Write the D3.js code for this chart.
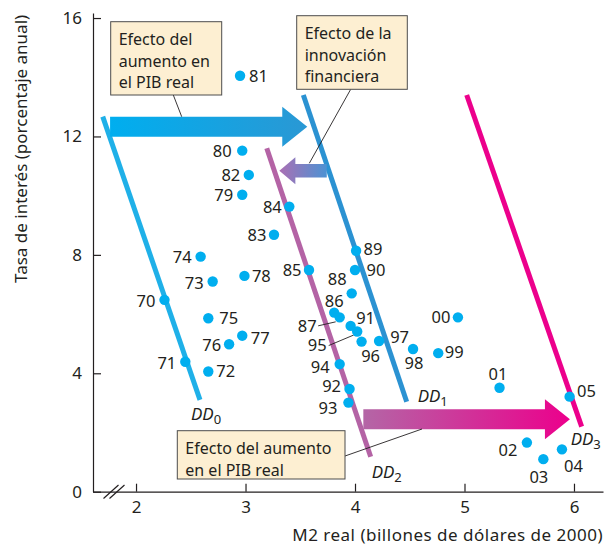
<!DOCTYPE html>
<html>
<head>
<meta charset="utf-8">
<script src="https://cdn.jsdelivr.net/npm/d3@7"></script>
<style>
	body { margin: 0; background: #ffffff; }
	svg { display: block; font-family: "Noto Sans", "Open Sans", sans-serif; }
</style>
</head>
<body>
<div id="chart"></div>
<script>
// years, real M2 (billions of 2000 dollars) and interest rate (% a year)
const years = ["70", "71", "72", "73", "74", "75", "76", "77", "78", "79",
	"80", "81", "82", "83", "84", "85", "86", "87", "88", "89",
	"90", "91", "92", "93", "94", "95", "96", "97", "98", "99",
	"00", "01", "02", "03", "04", "05"];
const realM2 = [2.26, 2.45, 2.66, 2.70, 2.59, 2.66, 2.85, 2.97, 2.99, 2.97,
	2.97, 2.95, 3.03, 3.26, 3.40, 3.58, 3.81, 3.86, 3.97, 4.01,
	4.00, 3.96, 3.95, 3.94, 3.86, 4.02, 4.06, 4.22, 4.53, 4.76,
	4.94, 5.32, 5.57, 5.72, 5.89, 5.96];
const rate = [6.48, 4.39, 4.06, 7.10, 7.94, 5.86, 4.98, 5.27, 7.29, 10.03,
	11.52, 14.05, 10.70, 8.68, 9.63, 7.49, 6.05, 5.89, 6.70, 8.14,
	7.49, 5.60, 3.47, 3.01, 4.31, 5.41, 5.07, 5.09, 4.82, 4.68,
	5.89, 3.51, 1.66, 1.10, 1.43, 3.21];

// demand curves: end points [m2, rate]
const curveNames = ["0", "1", "2", "3"];
const curveTop = [[1.696, 12.67], [3.528, 13.40], [3.194, 11.60], [5.020, 13.40]];
const curveBottom = [[2.584, 3.10], [4.472, 3.04], [4.143, 1.18], [6.070, 2.20]];

// shift arrows: from m2, to m2, at rate
const arrowFrom = [1.763, 3.742, 4.076];
const arrowTo = [3.564, 3.309, 5.963];
const arrowRate = [12.33, 10.84, 2.45];

const xTicks = [2, 3, 4, 5, 6];
const yTicks = [0, 4, 8, 12, 16];

const W = 611, H = 552;

const svg = d3.select("#chart")
	.append("svg")
	.attr("width", W)
	.attr("height", H);

const x = d3.scaleLinear().domain([1.607, 6.265]).range([93, 603]);
const y = d3.scaleLinear().domain([0, 16.17]).range([491.7, 13]);

const defs = svg.append("defs");
function grad(id, c1, c2) {
	const g = defs.append("linearGradient").attr("id", id)
		.attr("x1", "0%").attr("x2", "100%").attr("y1", "0%").attr("y2", "0%");
	g.append("stop").attr("offset", "0%").attr("stop-color", c1);
	g.append("stop").attr("offset", "100%").attr("stop-color", c2);
}
grad("gBlue", "#00aeef", "#2a98d4");
grad("gInno", "#aa70b4", "#4c92d3");
grad("gPink", "#b466a6", "#ec008c");

// axes
const yAxis = svg.append("g")
	.attr("transform", `translate(${x.range()[0]},0)`)
	.call(d3.axisLeft(y).tickValues(yTicks).tickFormat(d3.format("d"))
		.tickSizeInner(-8).tickSizeOuter(0).tickPadding(11));
const xAxis = svg.append("g")
	.attr("transform", `translate(0,${y.range()[0]})`)
	.call(d3.axisBottom(x).tickValues(xTicks).tickFormat(d3.format("d"))
		.tickSizeInner(-8).tickSizeOuter(0).tickPadding(9));

[yAxis, xAxis].forEach(a => {
	a.selectAll("path, line").attr("stroke", "#231f20").attr("stroke-width", 1.2);
	a.selectAll("text")
		.style("font-family", "Noto Sans")
		.style("font-size", "17px")
		.attr("fill", "#231f20");
});

// axis break
[0, 6].forEach(off => {
	svg.append("line")
		.attr("x1", 103.5 + off).attr("y1", 498.5)
		.attr("x2", 118.5 + off).attr("y2", 485)
		.attr("stroke", "#231f20").attr("stroke-width", 1.2);
});

// axis titles
svg.append("text")
	.attr("transform", `translate(27,${y(11.58)}) rotate(-90)`)
	.attr("text-anchor", "middle")
	.style("font-size", "17px")
	.attr("fill", "#231f20")
	.text("Tasa de interés (porcentaje anual)");

svg.append("text")
	.attr("x", 603)
	.attr("y", 541)
	.attr("text-anchor", "end")
	.style("font-size", "17px")
	.style("letter-spacing", "0.5px")
	.attr("fill", "#231f20")
	.text("M2 real (billones de dólares de 2000)");

// demand curves
const curveColors = ["#1fb0e8", "#2b92d2", "#b463a5", "#ec008c"];
const curveLabelOffset = [[-9, 20], [11, 0], [1, 21.5], [-11, 18.5]];
curveNames.forEach((n, i) => {
	svg.append("line")
		.attr("x1", x(curveTop[i][0])).attr("y1", y(curveTop[i][1]))
		.attr("x2", x(curveBottom[i][0])).attr("y2", y(curveBottom[i][1]))
		.attr("stroke", curveColors[i])
		.attr("stroke-width", 5);
	const t = svg.append("text")
		.attr("x", x(curveBottom[i][0]) + curveLabelOffset[i][0])
		.attr("y", y(curveBottom[i][1]) + curveLabelOffset[i][1])
		.style("font-size", "17px")
		.style("font-style", "italic")
		.attr("fill", "#231f20");
	t.append("tspan").text("DD");
	t.append("tspan").attr("dy", 4).style("font-size", "13px").style("font-style", "normal").text(n);
});

// arrows
const arrowFill = ["url(#gBlue)", "url(#gInno)", "url(#gPink)"];
const arrowShaft = [10, 6.7, 10];
const arrowHead = [20, 13.5, 20];
const arrowHeadLen = [25, 16, 25];
arrowFrom.forEach((a, i) => {
	const x0 = x(a), x1 = x(arrowTo[i]), yc = y(arrowRate[i]);
	const dir = x1 > x0 ? 1 : -1;
	const xb = x1 - dir * arrowHeadLen[i];
	const s = arrowShaft[i], h = arrowHead[i];
	const pts = [[x0, yc - s], [xb, yc - s], [xb, yc - h], [x1, yc], [xb, yc + h], [xb, yc + s], [x0, yc + s]];
	svg.append("path")
		.attr("d", "M" + pts.map(d => d.join(",")).join("L") + "Z")
		.attr("fill", arrowFill[i]);
});

// data points
const labelPos = {
	"70": ["end", -9, 1], "71": ["end", -9, 1.5], "72": ["start", 8, 0], "73": ["end", -9, 1.5],
	"74": ["end", -9, 0], "75": ["start", 11, 0], "76": ["end", -8, 1], "77": ["start", 8.5, 2],
	"78": ["start", 7.5, 0], "79": ["end", -9, 0], "80": ["end", -10.5, 0], "81": ["start", 9, 0],
	"82": ["end", -8.5, 0], "83": ["end", -7.5, 0], "84": ["end", -7.5, 0], "85": ["end", -7.5, 0],
	"86": ["middle", 0, -12], "87": ["end", -23, 8.5], "88": ["middle", -14.5, -14.5],
	"89": ["start", 7.5, -1.5], "90": ["start", 11.5, 0.5], "91": ["start", 5.5, -7.5],
	"92": ["end", -8.5, -3], "93": ["end", -11, 5.5], "94": ["end", -10, 2.5],
	"95": ["end", -30.5, 14], "96": ["middle", 9, 14.5], "97": ["middle", 20.5, -3.5],
	"98": ["middle", 1, 14.5], "99": ["start", 6.5, -1.5], "00": ["end", -7.5, 0],
	"01": ["middle", -1.5, -14], "02": ["end", -9.5, 7.5], "03": ["middle", -4.5, 17.5],
	"04": ["middle", 11.5, 16.5], "05": ["start", 7.5, -5.5]
};
const leaders = { "87": [[-21.5, 8.5], [-4, 4.5]], "95": [[-28.5, 14], [-3.5, 3.5]] };

const pts = years.map((yr, i) => ({ yr, m2: realM2[i], r: rate[i] }));

svg.selectAll(".leader")
	.data(pts.filter(d => leaders[d.yr]))
	.enter()
	.append("line")
	.attr("x1", d => x(d.m2) + leaders[d.yr][0][0])
	.attr("y1", d => y(d.r) + leaders[d.yr][0][1])
	.attr("x2", d => x(d.m2) + leaders[d.yr][1][0])
	.attr("y2", d => y(d.r) + leaders[d.yr][1][1])
	.attr("stroke", "#231f20")
	.attr("stroke-width", 0.9);

svg.selectAll(".dot")
	.data(pts)
	.enter()
	.append("circle")
	.attr("cx", d => x(d.m2))
	.attr("cy", d => y(d.r))
	.attr("r", 5.2)
	.attr("fill", "#00aeef");

svg.selectAll(".yr")
	.data(pts)
	.enter()
	.append("text")
	.attr("x", d => x(d.m2) + labelPos[d.yr][1])
	.attr("y", d => y(d.r) + labelPos[d.yr][2])
	.attr("dy", "0.36em")
	.attr("text-anchor", d => labelPos[d.yr][0])
	.style("font-size", "16.5px")
	.attr("fill", "#231f20")
	.text(d => d.yr);

// callout boxes
const boxes = [
	{ x0: 110.7, y0: 21.7, x1: 221.7, y1: 95, lines: ["Efecto del", "aumento en", "el PIB real"], lead: [[173.3, 95], [181.7, 116.7]] },
	{ x0: 296.7, y0: 15.7, x1: 407.3, y1: 89.3, lines: ["Efecto de la", "innovación", "financiera"], lead: [[350.7, 89.3], [309.3, 163.3]] },
	{ x0: 177.3, y0: 430.7, x1: 345, y1: 479, lines: ["Efecto del aumento", "en el PIB real"], lead: [[345, 456], [422, 429]] }
];
boxes.forEach(b => {
	svg.append("line")
		.attr("x1", b.lead[0][0]).attr("y1", b.lead[0][1])
		.attr("x2", b.lead[1][0]).attr("y2", b.lead[1][1])
		.attr("stroke", "#231f20").attr("stroke-width", 0.9);
	svg.append("rect")
		.attr("x", b.x0).attr("y", b.y0)
		.attr("width", b.x1 - b.x0).attr("height", b.y1 - b.y0)
		.attr("fill", "#fdefd2")
		.attr("stroke", "#4d4d4d")
		.attr("stroke-width", 1);
	b.lines.forEach((t, j) => {
		svg.append("text")
			.attr("x", b.x0 + 8)
			.attr("y", b.y0 + 23.5 + j * 21.6)
			.style("font-size", "16px")
			.attr("fill", "#231f20")
			.text(t);
	});
});
</script>
</body>
</html>
